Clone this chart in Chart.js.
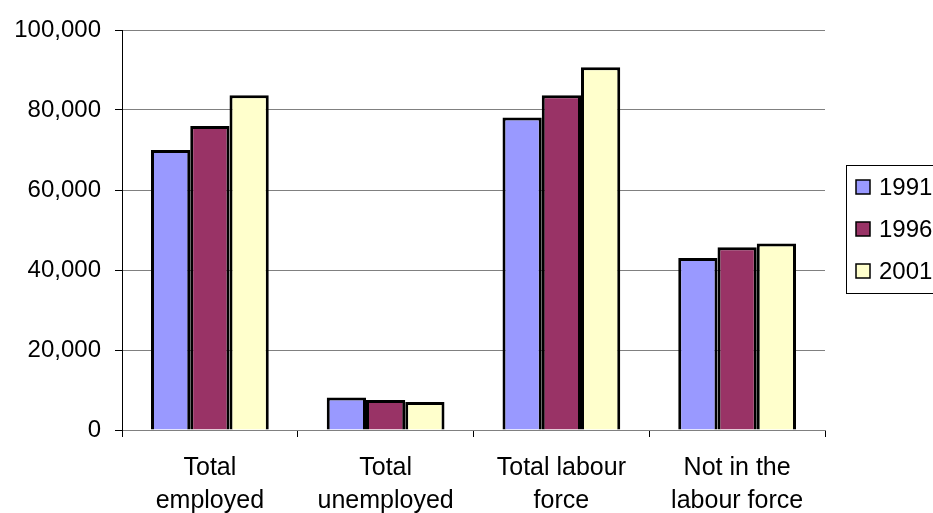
<!DOCTYPE html>
<html>
<head>
<meta charset="utf-8">
<script src="https://cdn.jsdelivr.net/npm/chart.js@4"></script>
<style>
  html, body { margin: 0; padding: 0; background: #fff; }
  canvas { display: block; }
</style>
</head>
<body>
<canvas id="labour" width="933" height="513"></canvas>
<script>
// Labour force status, persons
const categories = [
  ["Total", "employed"],
  ["Total", "unemployed"],
  ["Total labour", "force"],
  ["Not in the", "labour force"],
];
const years = ["1991", "1996", "2001"];
const values1991 = [70000, 8100, 78100, 43000];
const values1996 = [76000, 7500, 83700, 45700];
const values2001 = [83700, 7000, 90700, 46600];
const yearColors = ["#9999FF", "#993366", "#FFFFCC"];

const FONT = "'Liberation Sans', Arial, sans-serif";

// boxed legend on the right, same look as the spreadsheet default
const boxLegend = {
  id: "boxLegend",
  afterDraw(chart) {
    const ctx = chart.ctx;
    const x = 846, y = 165, w = 120, h = 128;
    ctx.save();
    ctx.fillStyle = "#fff";
    ctx.fillRect(x, y, w, h);
    ctx.strokeStyle = "#000";
    ctx.lineWidth = 1;
    ctx.strokeRect(x + 0.5, y + 0.5, w, h);
    ctx.font = "24px " + FONT;
    ctx.textBaseline = "middle";
    chart.data.datasets.forEach((ds, i) => {
      const cy = y + 22 + i * 42;
      ctx.fillStyle = ds.backgroundColor;
      ctx.fillRect(856, cy - 7, 14, 14);
      ctx.strokeStyle = "#000";
      ctx.lineWidth = 1.5;
      ctx.strokeRect(856, cy - 7, 14, 14);
      ctx.fillStyle = "#000";
      ctx.fillText(ds.label, 879, cy + 1);
    });
    ctx.restore();
  },
};

const series = [values1991, values1996, values2001];

new Chart(document.getElementById("labour"), {
  type: "bar",
  data: {
    labels: categories,
    datasets: years.map((yr, i) => ({
      label: yr,
      data: series[i],
      backgroundColor: yearColors[i],
      borderColor: "#000",
      borderWidth: 3,
      barPercentage: 1,
      categoryPercentage: 0.67,
    })),
  },
  options: {
    responsive: false,
    animation: false,
    layout: { padding: { top: 30, right: 108, left: 0, bottom: 0 } },
    plugins: {
      legend: { display: false },
      tooltip: { enabled: false },
    },
    scales: {
      x: {
        afterFit: (scale) => { scale.height = 83; },
        grid: {
          offset: true,
          drawOnChartArea: false,
          drawTicks: true,
          tickLength: 7,
          tickColor: "#000",
        },
        border: { color: "#808080", width: 1 },
        ticks: {
          color: "#000",
          padding: 15,
          font: { family: FONT, size: 25, lineHeight: 1.32 },
          maxRotation: 0,
          autoSkip: false,
        },
      },
      y: {
        min: 0,
        max: 100000,
        afterFit: (scale) => { scale.width = 122; },
        grid: {
          color: "#808080",
          tickColor: "#000",
          tickLength: 7,
        },
        border: { color: "#000", width: 1 },
        ticks: {
          stepSize: 20000,
          color: "#000",
          padding: 14,
          font: { family: FONT, size: 24 },
          callback: (v) => v.toLocaleString("en-US"),
        },
      },
    },
  },
  plugins: [boxLegend],
});
</script>
</body>
</html>
